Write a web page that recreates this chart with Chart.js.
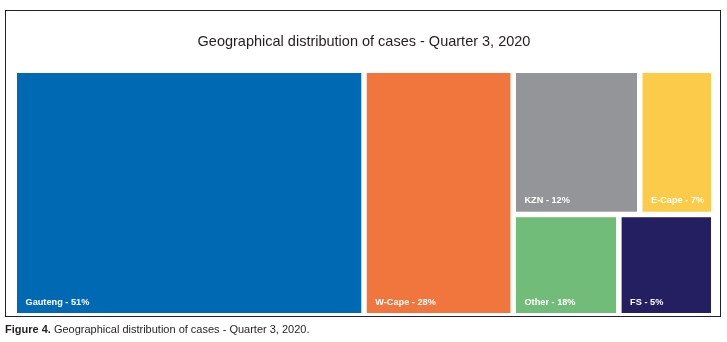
<!DOCTYPE html>
<html>
<head>
<meta charset="utf-8">
<script src="https://cdn.jsdelivr.net/npm/chart.js@4/dist/chart.umd.min.js"></script>
<style>
  html, body { margin:0; padding:0; background:#ffffff; }
  body { width:727px; height:342px; position:relative; overflow:hidden; font-family:"Liberation Sans", Arial, sans-serif; }
  #frame { position:absolute; left:4.5px; top:9.5px; width:714px; height:305px; border:1.5px solid #1f1d3d; }
  #wrap { position:absolute; left:0; top:0; width:727px; height:342px; }
  #caption { position:absolute; left:5px; top:323px; font-size:11px; color:#231f20; white-space:nowrap; }
  #caption b { font-weight:bold; }
</style>
</head>
<body>
<div id="frame"></div>
<div id="wrap"><canvas id="c" width="727" height="342"></canvas></div>
<div id="caption"><b>Figure 4.</b> Geographical distribution of cases - Quarter 3, 2020.</div>
<script>
// ---- data ----
const regions = ['Gauteng', 'W-Cape', 'KZN', 'E-Cape', 'Other', 'FS'];
const percentLabels = [51, 28, 12, 7, 18, 5];          // printed label values
const areaShares = [50.0, 21.5, 10.75, 6.05, 6.25, 5.45]; // relative tile areas
const tileColors = ['#0069b4', '#f0763d', '#939598', '#fdcb4a', '#70bc78', '#231f61'];
const chartTitle = 'Geographical distribution of cases - Quarter 3, 2020';

// squarified treemap layout (in unit space w x h)
function worst(row, side) {
  const s = row.reduce((a, b) => a + b, 0);
  let m = 0;
  for (const r of row) {
    m = Math.max(m, (side * side * r) / (s * s), (s * s) / (side * side * r));
  }
  return m;
}
function squarify(values, W, H) {
  const total = values.reduce((a, b) => a + b, 0);
  const areas = values.map(v => v / total * W * H);
  const out = [];
  let x = 0, y = 0, w = W, h = H, i = 0;
  while (i < areas.length) {
    const vertical = w >= h;
    const side = vertical ? h : w;
    let row = [areas[i]], j = i + 1, best = worst(row, side);
    while (j < areas.length) {
      const cand = row.concat(areas[j]);
      const wv = worst(cand, side);
      if (wv <= best) { row = cand; best = wv; j++; } else break;
    }
    const sum = row.reduce((a, b) => a + b, 0);
    const thick = sum / side;
    let off = 0;
    for (const a of row) {
      const len = a / thick;
      if (vertical) out.push({x0: x, y0: y + off, x1: x + thick, y1: y + off + len});
      else out.push({x0: x + off, y0: y, x1: x + off + len, y1: y + thick});
      off += len;
    }
    if (vertical) { x += thick; w -= thick; } else { y += thick; h -= thick; }
    i = j;
  }
  // convert to data units 0..100
  return out.map(r => ({x0: r.x0 / W * 100, x1: r.x1 / W * 100, y0: r.y0 / H * 100, y1: r.y1 / H * 100}));
}

const treemapPlugin = {
  id: 'treemapTiles',
  afterDraw(chart) {
    const {ctx, chartArea, scales} = chart;
    const cells = squarify(areaShares, chartArea.width, chartArea.height);
    const gap = 5.5, eps = 1e-6;
    ctx.save();
    cells.forEach((c, k) => {
      let l = scales.x.getPixelForValue(c.x0);
      let r = scales.x.getPixelForValue(c.x1);
      let t = scales.y.getPixelForValue(c.y0);
      let b = scales.y.getPixelForValue(c.y1);
      if (c.x0 > eps) l += gap / 2;
      if (c.x1 < 100 - eps) r -= gap / 2;
      if (c.y0 > eps) t += gap / 2;
      if (c.y1 < 100 - eps) b -= gap / 2;
      ctx.fillStyle = tileColors[k];
      ctx.fillRect(l, t, r - l, b - t);
      ctx.fillStyle = '#ffffff';
      ctx.font = 'bold 9.2px "Liberation Sans", Arial, sans-serif';
      ctx.textAlign = 'left';
      ctx.textBaseline = 'alphabetic';
      ctx.fillText(regions[k] + ' - ' + percentLabels[k] + '%', l + 8.5, b - 8.5);
    });
    ctx.restore();
  }
};

new Chart(document.getElementById('c'), {
  type: 'scatter',
  data: { datasets: [] },
  options: {
    responsive: false,
    animation: false,
    events: [],
    layout: { padding: { left: 17, right: 16, top: 0, bottom: 29 } },
    scales: {
      x: { type: 'linear', min: 0, max: 100, display: false },
      y: { type: 'linear', min: 0, max: 100, reverse: true, display: false }
    },
    plugins: {
      legend: { display: false },
      tooltip: { enabled: false },
      title: {
        display: true,
        text: chartTitle,
        color: '#231f20',
        font: { family: '"Liberation Sans", Arial, sans-serif', size: 14.5, weight: 'normal', lineHeight: 1.2 },
        padding: { top: 33.5, bottom: 22.1 }
      }
    }
  },
  plugins: [treemapPlugin]
});
</script>
</body>
</html>
